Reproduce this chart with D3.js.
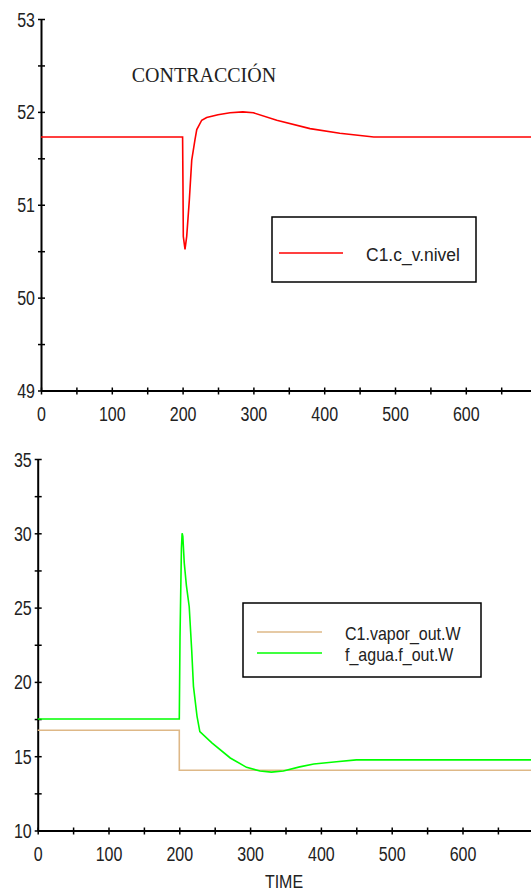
<!DOCTYPE html>
<html>
<head>
<meta charset="utf-8">
<script src="https://cdn.jsdelivr.net/npm/d3@7"></script>
<style>
  body { margin: 0; background: #fff; }
  svg { display: block; }
</style>
</head>
<body>
<script>
// top chart: C1.c_v.nivel
const nivelTime = [0, 200, 200.5, 201, 203.4, 205.8, 209.5, 212.9, 217.5, 220, 227, 234, 250, 267, 285, 300, 333, 380, 422, 470, 700];
const nivelValue = [51.73, 51.73, 51.24, 50.66, 50.52, 50.66, 51.05, 51.48, 51.7, 51.81, 51.91, 51.94, 51.97, 51.99, 52.0, 51.99, 51.91, 51.82, 51.77, 51.73, 51.73];

// bottom chart
const vaporTime = [0, 200, 200, 700];
const vaporValue = [16.75, 16.75, 14.05, 14.05];
const aguaTime = [0, 200, 201, 203, 204, 205, 207, 210, 214, 217.5, 220, 225, 229, 246, 272, 295, 314, 330, 347, 370, 390, 422, 450, 700];
const aguaValue = [17.5, 17.5, 23, 29, 30, 29.8, 28, 26.5, 25.06, 22.15, 19.7, 17.7, 16.65, 15.9, 14.88, 14.25, 14.0, 13.93, 14.0, 14.28, 14.48, 14.63, 14.75, 14.75];

const xTicks = d3.range(0, 701, 50);
const xLabels = [0, 100, 200, 300, 400, 500, 600];
const topYTicks = d3.range(49, 53.01, 0.5);
const topYLabels = [49, 50, 51, 52, 53];
const botYTicks = d3.range(10, 35.01, 2.5);
const botYLabels = [10, 15, 20, 25, 30, 35];

const width = 531;
const height = 892;
const sans = '"Liberation Sans", Arial, sans-serif';

const svg = d3.select('body').append('svg')
  .attr('width', width)
  .attr('height', height);

function label(g, x, y, str, size, sy, anchor, family) {
  return g.append('text')
    .attr('transform', `translate(${x},${y}) scale(1,${sy})`)
    .attr('font-family', family || sans)
    .attr('font-size', size)
    .attr('text-anchor', anchor || 'start')
    .attr('fill', '#222')
    .text(str);
}

function drawAxes(x, y, yTicks, yLabels) {
  const x0 = x.range()[0];
  const y0 = y.range()[0];

  const xa = svg.append('g')
    .attr('transform', `translate(0,${y0})`)
    .call(d3.axisBottom(x).tickValues(xTicks).tickSizeOuter(0)
      .tickFormat((d) => (xLabels.includes(d) ? d : '')));
  xa.selectAll('.tick line').attr('y1', -3).attr('y2', 4).attr('stroke', '#000').attr('stroke-width', 1.5);
  xa.selectAll('.tick text')
    .attr('y', null).attr('dy', null)
    .attr('transform', 'translate(0,30) scale(1,1.25)')
    .attr('font-family', sans).attr('font-size', 16).attr('fill', '#222');
  xa.select('.domain').attr('stroke', '#000').attr('stroke-width', 2);

  const ya = svg.append('g')
    .attr('transform', `translate(${x0},0)`)
    .call(d3.axisLeft(y).tickValues(yTicks).tickSizeOuter(0)
      .tickFormat((d) => (yLabels.includes(d) ? d : '')));
  ya.selectAll('.tick line').attr('x1', -3).attr('x2', 4).attr('stroke', '#000').attr('stroke-width', 1.5);
  ya.selectAll('.tick text')
    .attr('x', null).attr('dy', null)
    .attr('transform', 'translate(-6,7) scale(1,1.25)')
    .attr('font-family', sans).attr('font-size', 16).attr('fill', '#222');
  ya.select('.domain').attr('stroke', '#000').attr('stroke-width', 2);
}

// ---- top chart ----
const x1 = d3.scaleLinear().domain([0, 700]).range([41, 536.6]);
const y1 = d3.scaleLinear().domain([49, 53]).range([390.5, 19]);

drawAxes(x1, y1, topYTicks, topYLabels);

const nivel = nivelTime.map((t, i) => [t, nivelValue[i]]);
svg.append('path')
  .datum(nivel)
  .attr('fill', 'none')
  .attr('stroke', '#ff0000')
  .attr('stroke-width', 1.6)
  .attr('d', d3.line().x((d) => x1(d[0])).y((d) => y1(d[1])));

label(svg, 131.7, 81.7, 'CONTRACCIÓN', 20, 1, 'start', '"Liberation Serif", "Times New Roman", serif');

// top legend
svg.append('rect')
  .attr('x', 272).attr('y', 217).attr('width', 204).attr('height', 65)
  .attr('fill', '#fff').attr('stroke', '#000').attr('stroke-width', 1.5);
svg.append('line')
  .attr('x1', 279).attr('x2', 343).attr('y1', 253).attr('y2', 253)
  .attr('stroke', '#ff0000').attr('stroke-width', 1.6);
label(svg, 366, 260.5, 'C1.c_v.nivel', 17.5, 1.08);

// ---- bottom chart ----
const x2 = d3.scaleLinear().domain([0, 700]).range([37.7, 533.3]);
const y2 = d3.scaleLinear().domain([10, 35]).range([830.5, 459]);

drawAxes(x2, y2, botYTicks, botYLabels);

const line2 = d3.line().x((d) => x2(d[0])).y((d) => y2(d[1]));
const vapor = vaporTime.map((t, i) => [t, vaporValue[i]]);
const agua = aguaTime.map((t, i) => [t, aguaValue[i]]);

svg.append('path')
  .datum(vapor)
  .attr('fill', 'none')
  .attr('stroke', '#deb887')
  .attr('stroke-width', 1.6)
  .attr('d', line2);

svg.append('path')
  .datum(agua)
  .attr('fill', 'none')
  .attr('stroke', '#00ff00')
  .attr('stroke-width', 1.6)
  .attr('d', line2);

// bottom legend
svg.append('rect')
  .attr('x', 243).attr('y', 603).attr('width', 238).attr('height', 74)
  .attr('fill', '#fff').attr('stroke', '#000').attr('stroke-width', 1.5);
svg.append('line')
  .attr('x1', 257).attr('x2', 322).attr('y1', 632).attr('y2', 632)
  .attr('stroke', '#deb887').attr('stroke-width', 1.6);
svg.append('line')
  .attr('x1', 257).attr('x2', 322).attr('y1', 653).attr('y2', 653)
  .attr('stroke', '#00ff00').attr('stroke-width', 1.6);
label(svg, 345, 640, 'C1.vapor_out.W', 16, 1.15);
label(svg, 345, 661, 'f_agua.f_out.W', 16, 1.15);

label(svg, 284, 887.5, 'TIME', 16, 1.1, 'middle');
</script>
</body>
</html>
